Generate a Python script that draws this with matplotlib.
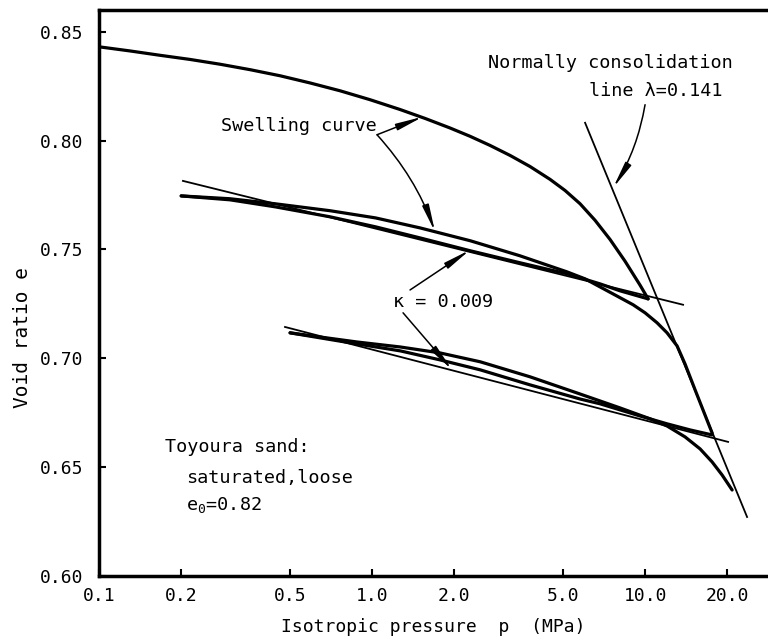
import matplotlib
matplotlib.use("Agg")
import matplotlib.pyplot as plt
from matplotlib.ticker import NullLocator

# ---------------- data (p in MPa, e = void ratio) ----------------
virgin_p = [0.1000, 0.1299, 0.1673, 0.2154, 0.2774, 0.3573, 0.4603, 0.5928, 0.7634,
            0.9833, 1.266, 1.564, 1.931, 2.285, 2.705, 3.203, 3.791, 4.488, 5.093,
            5.780, 6.559, 7.442, 8.447, 9.587, 10.26]
virgin_e = [0.8431, 0.8412, 0.8392, 0.8373, 0.8351, 0.8326, 0.8298, 0.8265, 0.8229,
            0.8188, 0.8143, 0.8102, 0.8058, 0.8020, 0.7978, 0.7932, 0.7881, 0.7822,
            0.7771, 0.7710, 0.7634, 0.7546, 0.7446, 0.7336, 0.7273]

unload1_p = [10.26, 8.10, 6.84, 5.18, 3.48, 2.29, 1.50, 1.03, 0.702, 0.441, 0.302, 0.200]
unload1_e = [0.7273, 0.7310, 0.7342, 0.7388, 0.7439, 0.7494, 0.7553, 0.7604,
             0.7650, 0.7696, 0.7728, 0.7746]

reload1_p = [0.200, 0.302, 0.441, 0.702, 1.03, 1.50, 2.29, 3.48, 5.18, 6.03, 6.84,
             7.76, 9.04, 10.00, 11.07, 12.04, 13.10, 14.01, 15.25, 17.60]
reload1_e = [0.7746, 0.7733, 0.7710, 0.7678, 0.7645, 0.7599, 0.7540, 0.7471,
             0.7397, 0.7365, 0.7328, 0.7291, 0.7246, 0.7209, 0.7163, 0.7117,
             0.7057, 0.6974, 0.6855, 0.6657]

unload2_p = [17.60, 14.62, 12.04, 9.59, 6.84, 5.78, 3.79, 2.49, 1.77, 1.27, 0.881, 0.645, 0.501]
unload2_e = [0.6648, 0.6671, 0.6699, 0.6735, 0.6791, 0.6813, 0.6878, 0.6947,
             0.6993, 0.7034, 0.7066, 0.7094, 0.7117]

reload2_p = [0.501, 0.645, 0.881, 1.27, 1.77, 2.49, 3.79, 5.78, 8.10, 10.43,
             12.04, 14.01, 15.90, 17.60, 19.15, 20.84]
reload2_e = [0.7117, 0.7098, 0.7075, 0.7052, 0.7025, 0.6984, 0.6915, 0.6836,
             0.6772, 0.6722, 0.6689, 0.6639, 0.6584, 0.6524, 0.6464, 0.6395]

kappa1_p = [0.203, 13.78]
kappa1_e = [0.7815, 0.7246]
kappa2_p = [0.480, 20.14]
kappa2_e = [0.7144, 0.6616]
ncl_p = [6.03, 23.64]
ncl_e = [0.8082, 0.6271]

xtick_vals = [0.1, 0.2, 0.5, 1.0, 2.0, 5.0, 10.0, 20.0]
xtick_labels = ["0.1", "0.2", "0.5", "1.0", "2.0", "5.0", "10.0", "20.0"]
ytick_vals = [0.60, 0.65, 0.70, 0.75, 0.80, 0.85]
ytick_labels = ["0.60", "0.65", "0.70", "0.75", "0.80", "0.85"]

# ---------------- figure ----------------
plt.rcParams['font.family'] = ['DejaVu Sans Mono', 'DejaVu Sans']
plt.rcParams['mathtext.fontset'] = 'custom'
plt.rcParams['mathtext.rm'] = 'DejaVu Sans Mono'
plt.rcParams['mathtext.it'] = 'DejaVu Sans Mono'

fig = plt.figure(figsize=(7.68, 6.38), dpi=100)
ax = fig.add_axes([0.1289, 0.0972, 0.8711, 0.8871])
ax.set_xscale('log')
ax.set_xlim(0.1, 28.2)
ax.set_ylim(0.60, 0.86)

thick = dict(color='black', lw=2.3, solid_capstyle='round', solid_joinstyle='round')
thin = dict(color='black', lw=1.3)

ax.plot(virgin_p, virgin_e, **thick)
ax.plot(unload1_p, unload1_e, **thick)
ax.plot(reload1_p, reload1_e, **thick)
ax.plot(unload2_p, unload2_e, **thick)
ax.plot(reload2_p, reload2_e, **thick)
ax.plot(kappa1_p, kappa1_e, **thin)
ax.plot(kappa2_p, kappa2_e, **thin)
ax.plot(ncl_p, ncl_e, **thin)

# axes styling
for side in ['left', 'bottom', 'top']:
    ax.spines[side].set_linewidth(2.5)
ax.spines['right'].set_visible(False)
ax.set_xticks(xtick_vals)
ax.set_xticklabels(xtick_labels)
ax.xaxis.set_minor_locator(NullLocator())
ax.set_yticks(ytick_vals)
ax.set_yticklabels(ytick_labels)
ax.tick_params(axis='both', direction='in', length=5, width=1.5, labelsize=13)
ax.tick_params(axis='x', pad=8)
ax.tick_params(axis='y', pad=11)
ax.tick_params(top=False, right=False)

ax.set_xlabel("Isotropic pressure  p  (MPa)", fontsize=13, va='center')
ax.xaxis.set_label_coords(0.5, -0.090)
ax.set_ylabel("Void ratio e", fontsize=14, va='center')
ax.yaxis.set_label_coords(-0.115, 0.422)

# texts
fs = 13.3
ax.text(2.66, 0.8358, "Normally consolidation", fontsize=fs, ha='left', va='center')
ax.text(6.236, 0.8229, "line λ=0.141", fontsize=fs, ha='left', va='center')
ax.text(0.2798, 0.8068, "Swelling curve", fontsize=fs, ha='left', va='center')
ax.text(1.194, 0.7259, "κ = 0.009", fontsize=fs, ha='left', va='center')
ax.text(0.1745, 0.6593, "Toyoura sand:", fontsize=fs, ha='left', va='center')
ax.text(0.2084, 0.6450, "saturated,loose", fontsize=fs, ha='left', va='center')
ax.text(0.2084, 0.6326, r"e$_0$=0.82", fontsize=fs, ha='left', va='center')

arrow = dict(arrowstyle='-|>,head_length=1.6,head_width=0.2', color='black',
             lw=1.1, shrinkA=0, shrinkB=0, mutation_scale=10)

ax.annotate('', xy=(1.537, 0.811), xytext=(1.043, 0.8027), arrowprops=arrow)
ax.annotate('', xy=(1.701, 0.7581), xytext=(1.043, 0.8027),
            arrowprops=dict(arrow, connectionstyle='arc3,rad=-0.1'))
ax.annotate('', xy=(7.634, 0.7783), xytext=(10.0, 0.8165),
            arrowprops=dict(arrow, connectionstyle='arc3,rad=-0.1'))
ax.annotate('', xy=(2.285, 0.7498), xytext=(1.378, 0.7314), arrowprops=arrow)
ax.annotate('', xy=(1.964, 0.6947), xytext=(1.299, 0.7209), arrowprops=arrow)

fig.savefig("out.png", dpi=100)
